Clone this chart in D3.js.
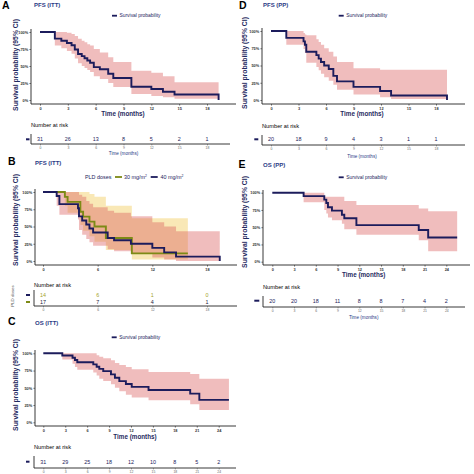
<!DOCTYPE html>
<html><head><meta charset="utf-8">
<script src="https://cdn.jsdelivr.net/npm/d3@7"></script>
<style>body{margin:0;background:#fff}svg{display:block}</style>
</head><body><svg id="c" width="474" height="474"></svg>
<script>
// ---------- DATA ----------
const yTickValues = [0, 0.25, 0.5, 0.75, 1];
const yTickLabels = ["0%", "25%", "50%", "75%", "100%"];
const ticks18 = [0, 3, 6, 9, 12, 15, 18];
const ticks18b = [0, 6, 12, 18];
const ticks24 = [0, 3, 6, 9, 12, 15, 18, 21, 24];

// A: PFS (ITT)
const pfsIttTime  = [0, 1.6, 2.3, 2.9, 3.4, 3.75, 4.1, 4.5, 4.8, 5.1, 5.4, 5.8, 6.45, 7.35, 7.9, 9.85, 12.0, 13.25, 14.5, 19.25];
const pfsIttSurv  = [1, 0.903, 0.871, 0.839, 0.806, 0.742, 0.677, 0.645, 0.613, 0.581, 0.548, 0.484, 0.452, 0.387, 0.323, 0.194, 0.161, 0.121, 0.081, 0.0];
const pfsIttUpper = [1, 1, 1, 0.99, 0.97, 0.94, 0.90, 0.87, 0.85, 0.82, 0.80, 0.75, 0.70, 0.63, 0.56, 0.43, 0.40, 0.35, 0.26, 0.26];
const pfsIttLower = [1, 0.80, 0.76, 0.72, 0.68, 0.61, 0.54, 0.50, 0.47, 0.44, 0.41, 0.35, 0.31, 0.25, 0.19, 0.09, 0.06, 0.04, 0.02, 0.02];
const pfsIttRisk  = [31, 26, 13, 8, 5, 2, 1];

// D: PFS (PP)
const pfsPpTime  = [0, 1.67, 3.55, 3.7, 3.85, 4.95, 5.2, 5.45, 5.8, 6.3, 6.8, 7.2, 9.0, 11.9, 13.1, 19.2];
const pfsPpSurv  = [1, 0.90, 0.85, 0.80, 0.70, 0.65, 0.60, 0.55, 0.50, 0.45, 0.35, 0.27, 0.19, 0.13, 0.065, 0];
const pfsPpUpper = [1, 1, 0.97, 0.95, 0.94, 0.88, 0.84, 0.80, 0.75, 0.70, 0.63, 0.55, 0.46, 0.44, 0.44, 0.44];
const pfsPpLower = [1, 0.80, 0.74, 0.68, 0.54, 0.48, 0.43, 0.38, 0.33, 0.28, 0.22, 0.15, 0.08, 0.04, 0.015, 0.015];
const pfsPpRisk  = [20, 18, 9, 4, 3, 1, 1];

// B: PFS (ITT) by PLD dose
const doseLabels = ["30 mg/m", "40 mg/m"];
const dose30Time  = [0, 2.4, 2.7, 4.1, 4.4, 5.1, 5.65, 6.9, 9.75, 15.9];
const dose30Surv  = [1, 0.929, 0.857, 0.714, 0.643, 0.571, 0.50, 0.333, 0.111, 0.111];
const dose30Upper = [1, 1, 1, 1, 1, 0.97, 0.93, 0.80, 0.62, 0.62];
const dose30Lower = [1, 0.80, 0.70, 0.52, 0.44, 0.36, 0.28, 0.16, 0.02, 0.02];
const dose30Risk  = [14, 6, 1, 0];
const dose40Time  = [0, 1.5, 1.8, 3.84, 3.95, 4.3, 4.75, 5.1, 5.5, 7.1, 7.8, 9.65, 12.0, 13.3, 14.6, 19.4];
const dose40Surv  = [1, 0.941, 0.824, 0.765, 0.647, 0.588, 0.529, 0.471, 0.412, 0.333, 0.30, 0.25, 0.19, 0.125, 0.063, 0];
const dose40Upper = [1, 1, 1, 1, 0.96, 0.93, 0.87, 0.83, 0.78, 0.73, 0.70, 0.65, 0.56, 0.50, 0.43, 0.43];
const dose40Lower = [1, 0.80, 0.67, 0.60, 0.45, 0.38, 0.32, 0.27, 0.22, 0.17, 0.14, 0.10, 0.05, 0.02, 0.0, 0.0];
const dose40Risk  = [17, 7, 4, 1];

// C: OS (ITT)
const osIttTime  = [0, 2.6, 4.0, 4.33, 4.65, 6.84, 7.3, 7.66, 8.2, 9.26, 9.8, 10.4, 11.3, 12.1, 14.4, 20.1, 21.35, 25.4];
const osIttSurv  = [1, 0.968, 0.935, 0.903, 0.871, 0.839, 0.806, 0.774, 0.742, 0.694, 0.645, 0.597, 0.556, 0.514, 0.468, 0.416, 0.325, 0.325];
const osIttUpper = [1, 1, 1, 1, 1, 1, 0.97, 0.95, 0.93, 0.90, 0.86, 0.83, 0.80, 0.77, 0.73, 0.70, 0.63, 0.63];
const osIttLower = [1, 0.91, 0.85, 0.80, 0.76, 0.72, 0.68, 0.63, 0.60, 0.55, 0.50, 0.45, 0.40, 0.36, 0.32, 0.26, 0.18, 0.18];
const osIttRisk  = [31, 29, 25, 18, 12, 10, 8, 5, 2];

// E: OS (PP)
const osPpTime  = [0, 4.32, 7.17, 7.45, 7.68, 8.23, 9.6, 9.93, 11.6, 20.2, 21.5, 25.5];
const osPpSurv  = [1, 0.95, 0.90, 0.85, 0.79, 0.74, 0.68, 0.63, 0.53, 0.46, 0.35, 0.35];
const osPpUpper = [1, 1, 0.94, 0.94, 0.94, 0.94, 0.94, 0.88, 0.82, 0.77, 0.73, 0.73];
const osPpLower = [1, 0.86, 0.75, 0.70, 0.64, 0.60, 0.55, 0.47, 0.39, 0.31, 0.15, 0.15];
const osPpRisk  = [20, 20, 18, 11, 8, 8, 7, 4, 2];

// ---------- STYLE ----------
const FONT = "'Liberation Sans', Arial, Helvetica, sans-serif";
const NAVY = "#1c1c5c";
const TITLEC = "#2b3a86";
const AXT = "#1f2a60";
const PINK = "#d9595a", PINK_OP = 0.4;
const YEL = "#f0c850", YEL_OP = 0.42;
const OLIVE = "#7d8a16";

const svg = d3.select("#c");

function txt(x, y, s, o = {}) {
  const t = svg.append("text").attr("x", x).attr("y", y).text(s)
    .attr("font-family", FONT).attr("font-size", o.fs || 6)
    .attr("font-weight", o.bold ? "bold" : "normal")
    .attr("fill", o.fill || "#000")
    .attr("text-anchor", o.anchor || "start");
  if (o.rot) t.attr("transform", `rotate(${o.rot},${x},${y})`);
  return t;
}
function hline(x1, x2, y, w = 0.8, c = "#222") {
  svg.append("line").attr("x1", x1).attr("x2", x2).attr("y1", y).attr("y2", y).attr("stroke", c).attr("stroke-width", w);
}
function vline(x, y1, y2, w = 0.8, c = "#222") {
  svg.append("line").attr("x1", x).attr("x2", x).attr("y1", y1).attr("y2", y2).attr("stroke", c).attr("stroke-width", w);
}

function drawPanel(L, series) {
  const xs = d3.scaleLinear().domain([0, L.tmax]).range([L.x0, L.x1]);
  const ys = d3.scaleLinear().domain([0, 1]).range([L.y0, L.y100]);
  const g = svg.append("g");
  series.forEach(s => {
    const pts = s.time.map((t, i) => ({ t, lo: s.lower[i], hi: s.upper[i] }));
    g.append("path").datum(pts)
      .attr("d", d3.area().curve(d3.curveStepAfter).x(d => xs(d.t)).y0(d => ys(d.lo)).y1(d => ys(d.hi)))
      .attr("fill", s.band).attr("fill-opacity", s.bandOp);
  });
  series.forEach(s => {
    const pts = s.time.map((t, i) => ({ t, v: s.surv[i] }));
    g.append("path").datum(pts)
      .attr("d", d3.line().curve(d3.curveStepAfter).x(d => xs(d.t)).y(d => ys(d.v)))
      .attr("fill", "none").attr("stroke", s.color).attr("stroke-width", 1.9);
  });
  const xa = g.append("g").attr("transform", `translate(0,${L.xAxisY})`)
    .call(d3.axisBottom(xs).tickValues(L.ticks).tickSize(1.6).tickPadding(1.2).tickFormat(d3.format("d")));
  xa.select(".domain").remove();
  xa.selectAll("line").attr("stroke", "#222").attr("stroke-width", 0.6);
  xa.selectAll("text").attr("font-family", FONT).attr("font-size", 3.9).attr("font-weight", "bold").attr("fill", "#333");
  const ya = g.append("g").attr("transform", `translate(${L.yAxisX},0)`)
    .call(d3.axisLeft(ys).tickValues(yTickValues).tickSize(1.6).tickPadding(1.2).tickFormat((d, i) => yTickLabels[i]));
  ya.select(".domain").remove();
  ya.selectAll("line").attr("stroke", "#222").attr("stroke-width", 0.6);
  ya.selectAll("text").attr("font-family", FONT).attr("font-size", 3.9).attr("font-weight", "bold").attr("fill", "#333");
  vline(L.yAxisX, L.yAxisTop, L.xAxisY, 0.9);
  hline(L.yAxisX, L.xAxisRight, L.xAxisY, 0.9);
  txt(L.letter[0], L.letter[1], L.id, { fs: 10.5, bold: true });
  txt(L.title[0], L.title[1], L.titleText, { fs: 6, bold: true, fill: TITLEC });
  txt(L.yTitle[0], L.yTitle[1], "Survival probability (95% CI)", { fs: 6.8, bold: true, fill: AXT, anchor: "middle", rot: -90 });
  if (L.timeTitle) txt(L.timeTitle[0], L.timeTitle[1], "Time (months)", { fs: 6.3, bold: true, fill: AXT, anchor: "middle" });
  return xs;
}

function drawLegendSingle(x, y) {
  svg.append("rect").attr("x", x).attr("y", y - 0.9).attr("width", 5).attr("height", 1.8).attr("fill", NAVY);
  txt(x + 7.5, y + 1.7, "Survival probability", { fs: 4.9, fill: "#1c1c5c" });
}

function drawRisk(R, xs, rows) {
  txt(R.x, R.headY, "Number at risk", { fs: 5.7 });
  rows.forEach(r => {
    r.values.forEach((v, i) => txt(xs(R.ticks[i]), r.y + 1.9, String(v), { fs: 5.4, anchor: "middle", fill: r.textColor }));
    svg.append("rect").attr("x", R.dashX).attr("y", r.y - 1).attr("width", R.dashW).attr("height", 2).attr("fill", r.dash);
  });
  vline(R.x, R.vTop, R.lineY, 0.9);
  hline(R.x, R.right, R.lineY, 0.9);
  const ax = svg.append("g").attr("transform", `translate(0,${R.lineY})`)
    .call(d3.axisBottom(xs).tickValues(R.ticks).tickSize(1.4).tickPadding(1).tickFormat(d3.format("d")));
  ax.select(".domain").remove();
  ax.selectAll("line").attr("stroke", "#444").attr("stroke-width", 0.5);
  ax.selectAll("text").attr("font-family", FONT).attr("font-size", 3.4).attr("fill", "#666");
  if (R.timeTitle) txt(R.timeTitle[0], R.timeTitle[1], "Time (months)", { fs: 4.6, fill: TITLEC, anchor: "middle" });
}

// ---------- PANEL A ----------
let xs = drawPanel({ id: "A", titleText: "PFS (ITT)", letter: [2, 9], title: [34, 7], tmax: 18, x0: 40, x1: 207, y0: 100, y100: 32,
  yAxisX: 31, yAxisTop: 29, xAxisY: 104, xAxisRight: 236, ticks: ticks18, yTitle: [18, 65], timeTitle: [123, 115.5] },
  [{ time: pfsIttTime, surv: pfsIttSurv, upper: pfsIttUpper, lower: pfsIttLower, color: NAVY, band: PINK, bandOp: PINK_OP }]);
drawLegendSingle(112, 15.7);
drawRisk({ x: 31, headY: 127, ticks: ticks18, dashX: 26, dashW: 3.5, vTop: 134, lineY: 144, right: 230, timeTitle: [123.5, 155] }, xs,
  [{ y: 139.3, values: pfsIttRisk, textColor: NAVY, dash: NAVY }]);

// ---------- PANEL D ----------
xs = drawPanel({ id: "D", titleText: "PFS (PP)", letter: [239, 9], title: [263, 7], tmax: 18, x0: 271, x1: 436, y0: 100, y100: 31,
  yAxisX: 262, yAxisTop: 28, xAxisY: 104, xAxisRight: 465, ticks: ticks18, yTitle: [247, 63], timeTitle: [362, 115.5] },
  [{ time: pfsPpTime, surv: pfsPpSurv, upper: pfsPpUpper, lower: pfsPpLower, color: NAVY, band: PINK, bandOp: PINK_OP }]);
drawLegendSingle(338.7, 15.7);
drawRisk({ x: 262, headY: 127.5, ticks: ticks18, dashX: 254.3, dashW: 4, vTop: 135, lineY: 145, right: 465, timeTitle: [362, 157.5] }, xs,
  [{ y: 139.3, values: pfsPpRisk, textColor: NAVY, dash: NAVY }]);

// ---------- PANEL B ----------
xs = drawPanel({ id: "B", titleText: "PFS (ITT)", letter: [8, 165], title: [35, 165], tmax: 18, x0: 43, x1: 207, y0: 261, y100: 192,
  yAxisX: 35, yAxisTop: 189, xAxisY: 265, xAxisRight: 237, ticks: ticks18b, yTitle: [17.5, 220], timeTitle: null },
  [{ time: dose30Time, surv: dose30Surv, upper: dose30Upper, lower: dose30Lower, color: OLIVE, band: YEL, bandOp: YEL_OP },
   { time: dose40Time, surv: dose40Surv, upper: dose40Upper, lower: dose40Lower, color: NAVY, band: PINK, bandOp: PINK_OP }]);
txt(85, 178.7, "PLD doses", { fs: 5.4, fill: "#1c1c5c" });
svg.append("rect").attr("x", 115).attr("y", 176.1).attr("width", 7).attr("height", 1.8).attr("fill", OLIVE);
const l30 = txt(124, 178.7, doseLabels[0], { fs: 5.4, fill: "#1c1c5c" });
l30.append("tspan").attr("dy", -2).attr("font-size", 3.4).text("2");
svg.append("rect").attr("x", 150.7).attr("y", 176.1).attr("width", 7).attr("height", 1.8).attr("fill", NAVY);
const l40 = txt(160.5, 178.7, doseLabels[1], { fs: 5.4, fill: "#1c1c5c" });
l40.append("tspan").attr("dy", -2).attr("font-size", 3.4).text("2");
drawRisk({ x: 34, headY: 287, ticks: ticks18b, dashX: 26, dashW: 4, vTop: 290, lineY: 306, right: 237, timeTitle: null }, xs,
  [{ y: 295, values: dose30Risk, textColor: "#a3a32a", dash: NAVY },
   { y: 302, values: dose40Risk, textColor: "#1c1c3c", dash: OLIVE }]);
txt(14, 296, "PLD doses", { fs: 4.4, fill: "#555", anchor: "middle", rot: -90 });

// ---------- PANEL C ----------
xs = drawPanel({ id: "C", titleText: "OS (ITT)", letter: [8, 325], title: [35, 325], tmax: 24, x0: 43.3, x1: 218.7, y0: 422.3, y100: 353.3,
  yAxisX: 35, yAxisTop: 350, xAxisY: 426, xAxisRight: 236, ticks: ticks24, yTitle: [18, 385], timeTitle: [135, 439] },
  [{ time: osIttTime, surv: osIttSurv, upper: osIttUpper, lower: osIttLower, color: NAVY, band: PINK, bandOp: PINK_OP }]);
drawLegendSingle(111.7, 337.3);
drawRisk({ x: 34, headY: 449, ticks: ticks24, dashX: 26, dashW: 3.5, vTop: 456, lineY: 468, right: 236, timeTitle: null }, xs,
  [{ y: 461.7, values: osIttRisk, textColor: NAVY, dash: NAVY }]);

// ---------- PANEL E ----------
xs = drawPanel({ id: "E", titleText: "OS (PP)", letter: [238.5, 167.5], title: [263, 167], tmax: 24, x0: 272.3, x1: 446.3, y0: 261.7, y100: 192.7,
  yAxisX: 263, yAxisTop: 190, xAxisY: 265, xAxisRight: 470, ticks: ticks24, yTitle: [247, 222], timeTitle: [363.7, 277] },
  [{ time: osPpTime, surv: osPpSurv, upper: osPpUpper, lower: osPpLower, color: NAVY, band: PINK, bandOp: PINK_OP }]);
drawLegendSingle(338.7, 177.3);
drawRisk({ x: 263, headY: 288.7, ticks: ticks24, dashX: 254.3, dashW: 5, vTop: 296, lineY: 307, right: 465, timeTitle: [363.7, 318.5] }, xs,
  [{ y: 300.7, values: osPpRisk, textColor: NAVY, dash: NAVY }]);
</script></body></html>
